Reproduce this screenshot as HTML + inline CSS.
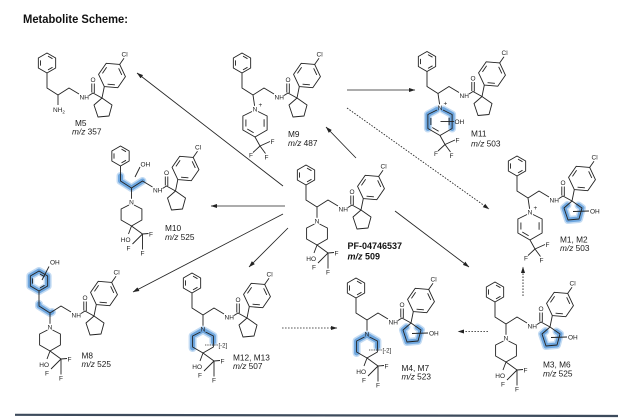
<!DOCTYPE html>
<html><head><meta charset="utf-8">
<style>
html,body{margin:0;padding:0;background:#fff;}
body{width:640px;height:418px;overflow:hidden;}
svg{display:block;}
.a{font-family:"Liberation Sans",sans-serif;font-size:6.5px;fill:#222;}
.s{font-family:"Liberation Sans",sans-serif;font-size:6px;fill:#222;}
.l{font-family:"Liberation Sans",sans-serif;font-size:8.3px;fill:#1a1a1a;}
.hb{fill:none;stroke:#c3dbf3;stroke-width:8;stroke-linecap:round;stroke-linejoin:round;}
.hl{fill:none;stroke:#6fa7df;stroke-width:5;stroke-linecap:round;stroke-linejoin:round;}
</style></head>
<body>
<svg xmlns="http://www.w3.org/2000/svg" xmlns:xlink="http://www.w3.org/1999/xlink" width="640" height="418" viewBox="0 0 640 418">
<defs>
  <marker id="ah" viewBox="0 0 10 10" refX="9.5" refY="5" markerWidth="6.5" markerHeight="6.5" markerUnits="userSpaceOnUse" orient="auto">
    <path d="M0,1.8 L10,5 L0,8.2 Z" fill="#222" stroke="none"/>
  </marker>
  <g id="core" fill="none" stroke="#222" stroke-width="0.9" stroke-linejoin="round">
    <path d="M-11,-42 L-2.34,-37 L-2.34,-27 L-11,-22 L-19.66,-27 L-19.66,-37 Z"/>
    <path d="M-10,-38.9 L-5.5,-36.3 M-5.5,-27.7 L-10,-25.1 M-17.5,-29.4 L-17.5,-34.6"/>
    <path d="M-11,-22 L-11,-7 L0,0 L11,-7 L21,-1"/>
    <path d="M31,0.5 L35,-2 L44,3 M33.8,-2.5 L33.8,-11.5 M36.3,-2 L36.3,-11.5"/>
    <path d="M44,3 L54,10 L51,21 L40,22 L36,10 Z"/>
    <path d="M44,3 L46.3,-8.4"/>
    <path d="M46.3,-8.4 L40.55,-20.63 L48.25,-31.71 L61.7,-30.58 L67.45,-18.37 L59.75,-7.29 Z"/>
    <path d="M44.44,-21.67 L48.63,-27.71 M60.66,-26.7 L63.79,-20.05 M56.9,-10.14 L49.57,-10.77"/>
    <path d="M61.7,-30.58 L66,-36.8"/>
  </g>
  <g id="pip" fill="none" stroke="#222" stroke-width="0.9" stroke-linejoin="round">
    <path d="M0,0 L0,10.8"/>
    <path d="M2.5,17 L10.4,21 L10.4,32 L0,38 L-10.4,32 L-10.4,21 L-2.5,17"/>
    <path d="M0,38 L-3,46 M0,38 L11,46 M11,46 L17,45.5 M11,46 L1,56 M11,46 L11,61.5"/>
  </g>
  <g id="pyr" fill="none" stroke="#222" stroke-width="0.9" stroke-linejoin="round">
    <path d="M0,0 L1.6,10.8"/>
    <path d="M5,16.5 L14.12,21 L14.12,35 L2,42 L-10.12,35 L-10.12,21 L-1,16.5"/>
    <path d="M11.09,24.3 L11.09,31.7 M0.64,37.71 L-5.73,34.04 M-7.1,24.5 L-7.1,31.5"/>
    <path d="M2,42 L7,51 M7,51 L17,46.5 M7,51 L0,57.5 M7,51 L12.5,58.5"/>
  </g>
</defs>

<rect x="0" y="0" width="640" height="418" fill="#fff"/>

<text x="23" y="23" font-family="Liberation Sans, sans-serif" font-weight="bold" font-size="11.5" fill="#111" textLength="105" lengthAdjust="spacingAndGlyphs">Metabolite Scheme:</text>

<!-- arrows -->
<g stroke="#222" stroke-width="0.85" fill="none">
  <line x1="283" y1="186" x2="137" y2="73" marker-end="url(#ah)"/>
  <line x1="356" y1="158" x2="326" y2="127" marker-end="url(#ah)"/>
  <line x1="347" y1="90" x2="415" y2="90" marker-end="url(#ah)"/>
  <line x1="347" y1="108" x2="489" y2="209" stroke-dasharray="1.6 1.4" marker-end="url(#ah)"/>
  <line x1="285" y1="206" x2="211" y2="206" marker-end="url(#ah)"/>
  <line x1="283" y1="214" x2="133" y2="292" marker-end="url(#ah)"/>
  <line x1="288" y1="228" x2="249" y2="267" marker-end="url(#ah)"/>
  <line x1="395" y1="211" x2="469" y2="267" marker-end="url(#ah)"/>
  <line x1="282" y1="328" x2="337" y2="328" stroke-dasharray="1.6 1.4" marker-end="url(#ah)"/>
  <line x1="488" y1="331.5" x2="458" y2="331.5" stroke-dasharray="1.6 1.4" marker-end="url(#ah)"/>
  <line x1="523" y1="296" x2="523" y2="267" stroke-dasharray="1.6 1.4" marker-end="url(#ah)"/>
</g>

<!-- Parent PF-04746537 -->
<g transform="translate(317,207)">
  <use xlink:href="#core" href="#core"/><use xlink:href="#pip" href="#pip"/>
  <text class="a" x="21.5" y="4.5">NH</text>
  <text class="a" x="35" y="-12.8" text-anchor="middle">O</text>
  <text class="a" x="63.5" y="-38.5">Cl</text>
  <text class="a" x="0" y="16.5" text-anchor="middle">N</text>
  <text class="a" x="-1" y="54" text-anchor="end">HO</text>
  <text class="a" x="17.5" y="48.5">F</text>
  <text class="a" x="-3" y="62.5" text-anchor="middle">F</text>
  <text class="a" x="11" y="67.5" text-anchor="middle">F</text>
</g>
<text x="347.5" y="249" font-family="Liberation Sans, sans-serif" font-weight="bold" font-size="9" fill="#111">PF-04746537</text>
<text x="347.5" y="259.5" font-family="Liberation Sans, sans-serif" font-weight="bold" font-size="9" fill="#111"><tspan font-style="italic">m/z</tspan> 509</text>

<!-- M5 -->
<g transform="translate(58,95)">
  <use xlink:href="#core" href="#core"/>
  <path d="M0,0 L0,10" stroke="#222" stroke-width="0.9"/>
  <text class="a" x="21.5" y="4.5">NH</text>
  <text class="a" x="35" y="-12.8" text-anchor="middle">O</text>
  <text class="a" x="63.5" y="-38.5">Cl</text>
  <text class="a" x="-5" y="17">NH<tspan font-size="4.5" dy="1.5">2</tspan></text>
</g>
<text class="l" x="75" y="126">M5</text>
<text class="l" x="72" y="134.5"><tspan font-style="italic">m/z</tspan> 357</text>

<!-- M9 -->
<g transform="translate(253,95)">
  <use xlink:href="#core" href="#core"/><use xlink:href="#pyr" href="#pyr"/>
  <text class="a" x="21.5" y="4.5">NH</text>
  <text class="a" x="35" y="-12.8" text-anchor="middle">O</text>
  <text class="a" x="63.5" y="-38.5">Cl</text>
  <text class="a" x="2" y="16.5" text-anchor="middle">N</text>
  <text class="a" x="5.5" y="12" font-size="5">+</text>
  <text class="a" x="17.5" y="49">F</text>
  <text class="a" x="-2" y="62.5" text-anchor="middle">F</text>
  <text class="a" x="13.5" y="64.5" text-anchor="middle">F</text>
</g>
<text class="l" x="288" y="137">M9</text>
<text class="l" x="288" y="146"><tspan font-style="italic">m/z</tspan> 487</text>

<!-- M11 -->
<g transform="translate(438,93.5)">
  <path class="hb" d="M-10.12,35 L-10.12,21 L-1,16 M5,16 L14.12,21 L14.12,35"/>
  <path class="hl" d="M-10.12,35 L-10.12,21 L-1,16 M5,16 L14.12,21 L14.12,35"/>
  <use xlink:href="#core" href="#core"/><use xlink:href="#pyr" href="#pyr"/>
  <path d="M2.5,28 L16,28" stroke="#222" stroke-width="0.9"/>
  <text class="a" x="21.5" y="4.5">NH</text>
  <text class="a" x="35" y="-12.8" text-anchor="middle">O</text>
  <text class="a" x="63.5" y="-38.5">Cl</text>
  <text class="a" x="2" y="16.5" text-anchor="middle">N</text>
  <text class="a" x="5.5" y="12" font-size="5">+</text>
  <text class="a" x="16.5" y="30.5">OH</text>
  <text class="a" x="17.5" y="49">F</text>
  <text class="a" x="-2" y="62.5" text-anchor="middle">F</text>
  <text class="a" x="13.5" y="64.5" text-anchor="middle">F</text>
</g>
<text class="l" x="471" y="136.5">M11</text>
<text class="l" x="471" y="146.5"><tspan font-style="italic">m/z</tspan> 503</text>

<!-- M10 -->
<g transform="translate(131.5,188)">
  <path class="hb" d="M-11,-12 L-11,-7 L0,0 L11,-7"/>
  <path class="hl" d="M-11,-12 L-11,-7 L0,0 L11,-7"/>
  <use xlink:href="#core" href="#core"/><use xlink:href="#pip" href="#pip"/>
  <path d="M3.5,-11 L8.5,-21" stroke="#222" stroke-width="0.9"/>
  <text class="a" x="9" y="-21.5">OH</text>
  <text class="a" x="21.5" y="4.5">NH</text>
  <text class="a" x="35" y="-12.8" text-anchor="middle">O</text>
  <text class="a" x="63.5" y="-38.5">Cl</text>
  <text class="a" x="0" y="16.5" text-anchor="middle">N</text>
  <text class="a" x="-1" y="54" text-anchor="end">HO</text>
  <text class="a" x="17.5" y="48.5">F</text>
  <text class="a" x="-3" y="62.5" text-anchor="middle">F</text>
  <text class="a" x="11" y="67.5" text-anchor="middle">F</text>
</g>
<text class="l" x="165" y="231">M10</text>
<text class="l" x="165" y="240"><tspan font-style="italic">m/z</tspan> 525</text>

<!-- M1, M2 -->
<g transform="translate(528,198)">
  <path class="hb" d="M39.5,7 L36,10 L40,22 L51,21 L54,10 L50.5,7.5"/>
  <path class="hl" d="M39.5,7 L36,10 L40,22 L51,21 L54,10 L50.5,7.5"/>
  <use xlink:href="#core" href="#core"/><use xlink:href="#pyr" href="#pyr"/>
  <path d="M45,13.5 L61,13" stroke="#222" stroke-width="0.9"/>
  <text class="a" x="62" y="15.5">OH</text>
  <text class="a" x="21.5" y="4.5">NH</text>
  <text class="a" x="35" y="-12.8" text-anchor="middle">O</text>
  <text class="a" x="63.5" y="-38.5">Cl</text>
  <text class="a" x="2" y="16.5" text-anchor="middle">N</text>
  <text class="a" x="5.5" y="12" font-size="5">+</text>
  <text class="a" x="17.5" y="49">F</text>
  <text class="a" x="-2" y="62.5" text-anchor="middle">F</text>
  <text class="a" x="13.5" y="64.5" text-anchor="middle">F</text>
</g>
<text class="l" x="560" y="242.5">M1, M2</text>
<text class="l" x="560" y="251"><tspan font-style="italic">m/z</tspan> 503</text>

<!-- M8 -->
<g transform="translate(50,313)">
  <path class="hb" d="M-11,-42 L-2.34,-37 L-2.34,-27 L-11,-22 L-19.66,-27 L-19.66,-37 Z M-11,-9 L-11,-7 L0,0 L2,-1"/>
  <path class="hl" d="M-11,-42 L-2.34,-37 L-2.34,-27 L-11,-22 L-19.66,-27 L-19.66,-37 Z M-11,-9 L-11,-7 L0,0 L2,-1"/>
  <use xlink:href="#core" href="#core"/><use xlink:href="#pip" href="#pip"/>
  <path d="M-8,-33 L-1,-46.5" stroke="#222" stroke-width="0.9"/>
  <text class="a" x="0" y="-48.5">OH</text>
  <text class="a" x="21.5" y="4.5">NH</text>
  <text class="a" x="35" y="-12.8" text-anchor="middle">O</text>
  <text class="a" x="63.5" y="-38.5">Cl</text>
  <text class="a" x="0" y="16.5" text-anchor="middle">N</text>
  <text class="a" x="-1" y="54" text-anchor="end">HO</text>
  <text class="a" x="17.5" y="48.5">F</text>
  <text class="a" x="-3" y="62.5" text-anchor="middle">F</text>
  <text class="a" x="11" y="67.5" text-anchor="middle">F</text>
</g>
<text class="l" x="81.5" y="358.5">M8</text>
<text class="l" x="81.5" y="367"><tspan font-style="italic">m/z</tspan> 525</text>

<!-- M12, M13 -->
<g transform="translate(203,315)">
  <path class="hb" d="M-10.4,33 L-10.4,21 L0,15 L10.4,21 L10.4,27"/>
  <path class="hl" d="M-10.4,33 L-10.4,21 L0,15 L10.4,21 L10.4,27"/>
  <use xlink:href="#core" href="#core"/><use xlink:href="#pip" href="#pip"/>
  <path d="M2,30 L15,30" stroke="#222" stroke-width="0.8" stroke-dasharray="1.3 1"/>
  <text class="s" x="15.5" y="32.5">[-2]</text>
  <text class="a" x="21.5" y="4.5">NH</text>
  <text class="a" x="35" y="-12.8" text-anchor="middle">O</text>
  <text class="a" x="63.5" y="-38.5">Cl</text>
  <text class="a" x="0" y="16.5" text-anchor="middle">N</text>
  <text class="a" x="-1" y="54" text-anchor="end">HO</text>
  <text class="a" x="17.5" y="48.5">F</text>
  <text class="a" x="-3" y="62.5" text-anchor="middle">F</text>
  <text class="a" x="11" y="67.5" text-anchor="middle">F</text>
</g>
<text class="l" x="233" y="360.5">M12, M13</text>
<text class="l" x="233" y="369"><tspan font-style="italic">m/z</tspan> 507</text>

<!-- M4, M7 -->
<g transform="translate(367,320)">
  <path class="hb" d="M-10.4,33 L-10.4,21 L0,15 L10.4,21 L10.4,27 M39.5,7 L36,10 L40,22 L51,21 L54,10 L50.5,7.5"/>
  <path class="hl" d="M-10.4,33 L-10.4,21 L0,15 L10.4,21 L10.4,27 M39.5,7 L36,10 L40,22 L51,21 L54,10 L50.5,7.5"/>
  <use xlink:href="#core" href="#core"/><use xlink:href="#pip" href="#pip"/>
  <path d="M2,30 L15,30" stroke="#222" stroke-width="0.8" stroke-dasharray="1.3 1"/>
  <text class="s" x="15.5" y="32.5">[-2]</text>
  <path d="M45,13.5 L61,13" stroke="#222" stroke-width="0.9"/>
  <text class="a" x="62" y="15.5">OH</text>
  <text class="a" x="21.5" y="4.5">NH</text>
  <text class="a" x="35" y="-12.8" text-anchor="middle">O</text>
  <text class="a" x="63.5" y="-38.5">Cl</text>
  <text class="a" x="0" y="16.5" text-anchor="middle">N</text>
  <text class="a" x="-1" y="54" text-anchor="end">HO</text>
  <text class="a" x="17.5" y="48.5">F</text>
  <text class="a" x="-3" y="62.5" text-anchor="middle">F</text>
  <text class="a" x="11" y="67.5" text-anchor="middle">F</text>
</g>
<text class="l" x="401.5" y="371">M4, M7</text>
<text class="l" x="401.5" y="379.5"><tspan font-style="italic">m/z</tspan> 523</text>

<!-- M3, M6 -->
<g transform="translate(506,324)">
  <path class="hb" d="M39.5,7 L36,10 L40,22 L51,21 L54,10 L50.5,7.5"/>
  <path class="hl" d="M39.5,7 L36,10 L40,22 L51,21 L54,10 L50.5,7.5"/>
  <use xlink:href="#core" href="#core"/><use xlink:href="#pip" href="#pip"/>
  <path d="M45,13.5 L61,13" stroke="#222" stroke-width="0.9"/>
  <text class="a" x="62" y="15.5">OH</text>
  <text class="a" x="21.5" y="4.5">NH</text>
  <text class="a" x="35" y="-12.8" text-anchor="middle">O</text>
  <text class="a" x="63.5" y="-38.5">Cl</text>
  <text class="a" x="0" y="16.5" text-anchor="middle">N</text>
  <text class="a" x="-1" y="54" text-anchor="end">HO</text>
  <text class="a" x="17.5" y="48.5">F</text>
  <text class="a" x="-3" y="62.5" text-anchor="middle">F</text>
  <text class="a" x="11" y="67.5" text-anchor="middle">F</text>
</g>
<text class="l" x="543" y="367.5">M3, M6</text>
<text class="l" x="543" y="376.5"><tspan font-style="italic">m/z</tspan> 525</text>

<!-- bottom rule -->
<line x1="15" y1="414.8" x2="618" y2="416" stroke="#3d4b5c" stroke-width="2.2"/>
</svg>
</body></html>
